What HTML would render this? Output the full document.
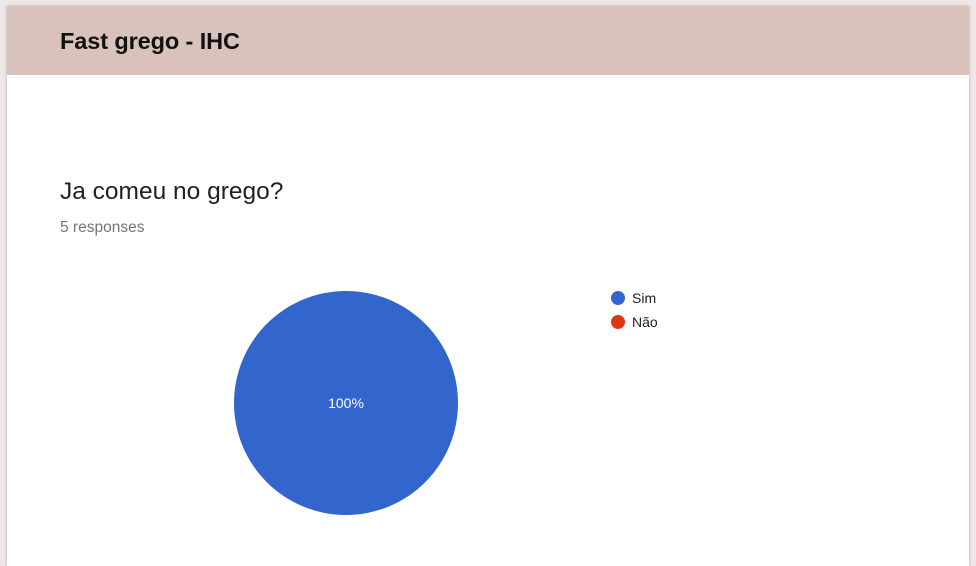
<!DOCTYPE html>
<html><head><meta charset="utf-8"><style>
html,body{margin:0;padding:0;width:976px;height:554px;overflow:hidden;background:#ede7e6;font-family:"Liberation Sans",Arial,sans-serif}
#card{position:absolute;left:7px;top:6px;width:962px;height:560px;background:#fff;box-shadow:0 0 3px rgba(0,0,0,.25)}
#band{position:absolute;left:0;top:0;width:962px;height:69px;background:#d9c2bc}
#title{position:absolute;left:53px;top:22px;font-size:23.5px;color:#111;font-weight:bold;letter-spacing:-0.1px}
#q{position:absolute;left:53px;top:172px;font-size:24.5px;color:#202124}
#resp{position:absolute;left:53px;top:213px;font-size:15.5px;color:#70757a}
svg{position:absolute;left:0;top:0}
</style></head><body>
<div id="card">
<div id="band"><div id="title">Fast grego - IHC</div></div>
<div id="q">Ja comeu no grego?</div>
<div id="resp">5 responses</div>
</div>
<svg id="chart" width="976" height="554"></svg>
<script>
const categories=["Sim","Não"];
const values=[5,0];
const colors=["#3366cc","#dc3912"];
const svg=document.getElementById('chart');
const NS="http://www.w3.org/2000/svg";
const cx=346,cy=403,r=112;
const total=values.reduce((a,b)=>a+b,0);
let ang=-Math.PI/2;
values.forEach((v,i)=>{
  if(v<=0)return;
  const frac=v/total;
  let el;
  if(frac>=0.9999){
    el=document.createElementNS(NS,'circle');
    el.setAttribute('cx',cx);el.setAttribute('cy',cy);el.setAttribute('r',r);
  }else{
    const a2=ang+frac*2*Math.PI;
    el=document.createElementNS(NS,'path');
    const x1=cx+r*Math.cos(ang),y1=cy+r*Math.sin(ang),x2=cx+r*Math.cos(a2),y2=cy+r*Math.sin(a2);
    el.setAttribute('d',`M${cx},${cy}L${x1},${y1}A${r},${r} 0 ${frac>0.5?1:0} 1 ${x2},${y2}Z`);
  }
  el.setAttribute('fill',colors[i]);
  
  
  svg.appendChild(el);
  const mid=ang+frac*Math.PI;
  const lr=frac>=0.9999?0:r*0.6;
  const t=document.createElementNS(NS,'text');
  t.setAttribute('x',cx+lr*Math.cos(mid));t.setAttribute('y',cy+lr*Math.sin(mid)+5);
  t.setAttribute('text-anchor','middle');t.setAttribute('fill','#fff');t.setAttribute('font-size','14');
  t.setAttribute('font-family','Liberation Sans, Arial, sans-serif');
  t.textContent=Math.round(frac*100)+'%';
  
  
  svg.appendChild(t);
  ang+=frac*2*Math.PI;
});
categories.forEach((c,i)=>{
  const y=298+i*24;
  const d=document.createElementNS(NS,'circle');
  d.setAttribute('cx',618);d.setAttribute('cy',y);d.setAttribute('r',7);d.setAttribute('fill',colors[i]);
  
  
  svg.appendChild(d);
  const t=document.createElementNS(NS,'text');
  t.setAttribute('x',632);t.setAttribute('y',y+5);t.setAttribute('font-size','14');t.setAttribute('fill','#222');
  t.setAttribute('font-family','Liberation Sans, Arial, sans-serif');
  t.textContent=c;
  
  
  svg.appendChild(t);
});
</script>
</body></html>
